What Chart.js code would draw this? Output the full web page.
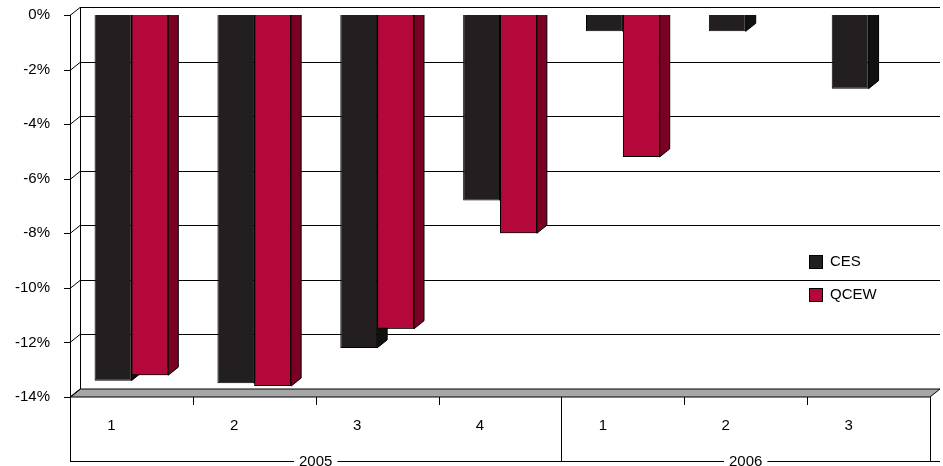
<!DOCTYPE html>
<html>
<head>
<meta charset="utf-8">
<script src="https://cdn.jsdelivr.net/npm/chart.js@4/dist/chart.umd.min.js"></script>
<style>
  html, body { margin: 0; padding: 0; background: #fff; }
  #wrap { width: 943px; height: 466px; }
</style>
</head>
<body>
<div id="wrap"><canvas id="chart"></canvas></div>
<script>
// Data
const quarters = ['1', '2', '3', '4', '1', '2', '3'];
const years = [{ label: '2005', span: 4 }, { label: '2006', span: 3 }];
const cesValues = [-13.4, -13.5, -12.2, -6.8, -0.6, -0.6, -2.7];
const qcewValues = [-13.2, -13.6, -11.5, -8.0, -5.2, null, null];
const yTicks = [0, -2, -4, -6, -8, -10, -12, -14];

const FONT = '"Liberation Sans", Arial, sans-serif';
const DX = 10, DY = 8;
const sideColors = ['#111', '#7a0024'];

function drawSides(ctx, a, ds, meta, color) {
    ctx.save();
    ctx.beginPath();
    ctx.rect(a.left, a.top, a.right - a.left + DX + 2, a.bottom - a.top);
    ctx.clip();
    meta.data.forEach((bar, j) => {
        if (ds.data[j] == null) return;
        const xr = bar.x + bar.width / 2;
        ctx.fillStyle = color;
        ctx.strokeStyle = '#000';
        ctx.lineWidth = 1;
        ctx.beginPath();
        ctx.moveTo(xr, bar.base);
        ctx.lineTo(xr + DX, bar.base - DY);
        ctx.lineTo(xr + DX, bar.y - DY);
        ctx.lineTo(xr, bar.y);
        ctx.closePath();
        ctx.fill();
        ctx.stroke();
    });
    ctx.restore();
}

// 3D look: back wall grid, floor, bar side faces, two-level axis, legend
const depthPlugin = {
    id: 'depth',
    beforeDatasetsDraw(chart) {
        const { ctx, chartArea: a, scales: { y } } = chart;
        ctx.save();
        ctx.fillStyle = '#a6a6a6';
        ctx.strokeStyle = '#000';
        ctx.lineWidth = 1;
        ctx.beginPath();
        ctx.moveTo(a.left, a.bottom);
        ctx.lineTo(a.left + DX, a.bottom - DY);
        ctx.lineTo(a.right + DX, a.bottom - DY);
        ctx.lineTo(a.right, a.bottom);
        ctx.closePath();
        ctx.fill();
        ctx.stroke();
        yTicks.forEach(v => {
            const py = Math.round(y.getPixelForValue(v)) + 0.5;
            ctx.beginPath();
            ctx.moveTo(a.left - 6, py);
            ctx.lineTo(a.left, py);
            ctx.lineTo(a.left + DX, py - DY);
            if (v !== -14) ctx.lineTo(a.right + DX, py - DY);
            ctx.stroke();
        });
        ctx.beginPath();
        ctx.moveTo(a.left + 0.5, a.top);
        ctx.lineTo(a.left + 0.5, a.bottom);
        ctx.moveTo(a.left + DX + 0.5, a.top - DY);
        ctx.lineTo(a.left + DX + 0.5, a.bottom - DY);
        ctx.stroke();
        ctx.restore();
    },
    afterDatasetsDraw(chart) {
        const { ctx, chartArea: a } = chart;
        const ds = chart.data.datasets;
        const m0 = chart.getDatasetMeta(0), m1 = chart.getDatasetMeta(1);
        drawSides(ctx, a, ds[0], m0, sideColors[0]);
        // redraw QCEW fronts so they sit over the CES side faces
        ctx.save();
        ctx.beginPath();
        ctx.rect(a.left, a.top, a.right - a.left, a.bottom - a.top);
        ctx.clip();
        m1.data.forEach((bar, j) => { if (ds[1].data[j] != null) bar.draw(ctx, a); });
        ctx.restore();
        drawSides(ctx, a, ds[1], m1, sideColors[1]);
    },
    afterDraw(chart) {
        const { ctx, chartArea: a, scales: { x } } = chart;
        const step = (a.right - a.left) / quarters.length;
        const row2 = a.bottom + 65;
        ctx.save();
        ctx.strokeStyle = '#000';
        ctx.lineWidth = 1;
        ctx.font = '15px ' + FONT;
        ctx.fillStyle = '#000';
        ctx.textBaseline = 'middle';
        ctx.textAlign = 'center';
        quarters.forEach((q, i) => {
            ctx.fillText(q, x.getPixelForValue(i) - 20, a.bottom + 29);
        });
        let idx = 0;
        ctx.beginPath();
        for (let i = 0; i <= quarters.length; i++) {
            const px = Math.round(a.left + i * step) + 0.5;
            ctx.moveTo(px, a.bottom);
            ctx.lineTo(px, a.bottom + 8);
        }
        years.forEach(g => {
            const x0 = Math.round(a.left + idx * step) + 0.5;
            const x1 = Math.round(a.left + (idx + g.span) * step) + 0.5;
            ctx.moveTo(x0, a.bottom);
            ctx.lineTo(x0, row2);
            ctx.moveTo(x1, a.bottom);
            ctx.lineTo(x1, row2);
            idx += g.span;
        });
        ctx.moveTo(a.left, row2 - 0.5);
        ctx.lineTo(a.right + DX, row2 - 0.5);
        ctx.stroke();
        idx = 0;
        years.forEach(g => {
            const cx = a.left + (idx + g.span / 2) * step;
            const w = ctx.measureText(g.label).width + 10;
            ctx.fillStyle = '#fff';
            ctx.fillRect(cx - w / 2, row2 - 8, w, 16);
            ctx.fillStyle = '#000';
            ctx.fillText(g.label, cx, row2);
            idx += g.span;
        });
        const items = [['CES', '#231f20'], ['QCEW', '#b5083a']];
        ctx.textAlign = 'left';
        items.forEach((it, i) => {
            const ly = 262 + i * 33;
            ctx.fillStyle = it[1];
            ctx.fillRect(809, ly - 7, 14, 14);
            ctx.strokeRect(809.5, ly - 6.5, 13, 13);
            ctx.fillStyle = '#000';
            ctx.fillText(it[0], 830, ly);
        });
        ctx.restore();
    }
};

new Chart(document.getElementById('chart').getContext('2d'), {
    type: 'bar',
    data: {
        labels: quarters,
        datasets: [
            { label: 'CES', data: cesValues, backgroundColor: '#231f20', borderColor: '#000', borderWidth: 1 },
            { label: 'QCEW', data: qcewValues, backgroundColor: '#b5083a', borderColor: '#000', borderWidth: 1 }
        ]
    },
    options: {
        responsive: true,
        maintainAspectRatio: false,
        animation: false,
        categoryPercentage: 0.6,
        barPercentage: 1,
        layout: { padding: { top: 15, right: 13, bottom: 0, left: 0 } },
        plugins: { legend: { display: false }, tooltip: { enabled: false } },
        scales: {
            x: {
                grid: { display: false },
                border: { display: false },
                ticks: { display: false },
                afterFit(s) { s.height = 69; }
            },
            y: {
                min: -14,
                max: 0,
                afterFit(s) { s.width = 70; s.paddingTop = 0; s.paddingBottom = 0; },
                afterBuildTicks(s) { s.ticks = yTicks.map(v => ({ value: v })); },
                grid: { display: false },
                border: { display: false },
                ticks: {
                    color: '#000',
                    padding: 12,
                    font: { family: FONT, size: 15 },
                    callback: v => v + '%'
                }
            }
        }
    },
    plugins: [depthPlugin]
});
</script>
</body>
</html>
